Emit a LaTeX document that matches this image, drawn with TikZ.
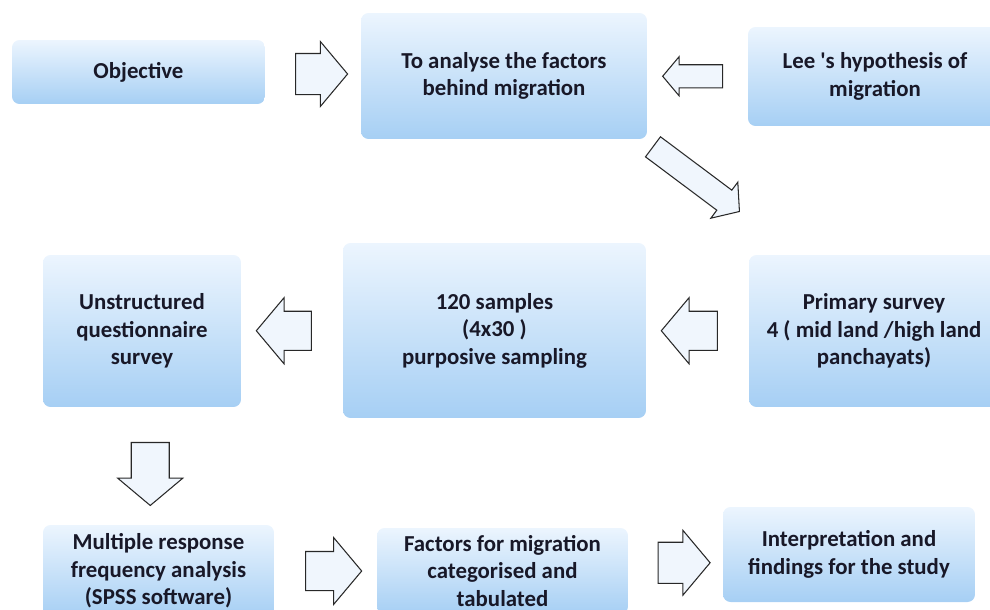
\documentclass[tikz,border=0pt]{standalone}
\usepackage{fontspec}
\setmainfont{Carlito}
\usepackage{xcolor}
\usetikzlibrary{calc, shapes.arrows}

\definecolor{boxtop}{RGB}{236,245,254}
\definecolor{boxbot}{RGB}{166,207,244}
\definecolor{boxtxt}{RGB}{24,24,40}
\definecolor{arrfill}{RGB}{240,246,253}
\definecolor{arrline}{RGB}{40,40,40}

\begin{document}
\begin{tikzpicture}[x=0.02cm, y=-0.02cm,
  box/.style={rounded corners=0.15cm, top color=boxtop, bottom color=boxbot,
    align=center, text=boxtxt, inner sep=0pt,
    font=\bfseries\fontsize{13}{15.7}\selectfont},
  blockarrow/.style n args={3}{single arrow, draw=arrline, fill=arrfill,
    line width=0.6pt, inner xsep=0pt, minimum width=0pt,
    single arrow tip angle=100, minimum height=#1, inner ysep=#2,
    single arrow head extend=#3}]
% picture is laid out in pixels of the reference (990 x 609)
\useasboundingbox (0,0) rectangle (990,609);

% --- Top row ---
\node[box, minimum width=5.06cm, minimum height=1.28cm] (obj) at (138.5,72) {Objective};
\node[box, minimum width=5.72cm, minimum height=2.52cm] (aim) at (504,76)
  {To analyse the factors\\behind migration};
\node[box, minimum width=5.08cm, minimum height=1.98cm] (lee) at (875,76.5)
  {Lee \textquotesingle s hypothesis of\\migration};

% --- Middle row ---
\node[box, minimum width=3.96cm, minimum height=3.04cm] (unstr) at (142,331)
  {Unstructured\\questionnaire\\survey};
\node[box, minimum width=6.06cm, minimum height=3.5cm] (sampl) at (494.5,330.5)
  {120 samples\\(4x30 )\\purposive sampling};
\node[box, minimum width=5.0cm, minimum height=3.04cm] (prim) at (874,331)
  {Primary survey\\4 ( mid land /high land\\panchayats)};

% --- Bottom row (runs off the lower edge) ---
\node[box, minimum width=4.62cm, minimum height=1.84cm] (freq) at (158.5,571)
  {Multiple response\\frequency analysis\\(SPSS software)};
\node[box, minimum width=5.02cm, minimum height=1.72cm] (fact) at (502.5,571)
  {Factors for migration\\categorised and\\tabulated};
\node[box, minimum width=5.04cm, minimum height=1.9cm] (interp) at (849,554.5)
  {Interpretation and\\findings for the study};

% --- Block arrows ---
\node[blockarrow={1.04cm}{0.4cm}{0.24cm}] (objaim) at ($(obj.east)!0.5!(aim.west)$) {};
\node[blockarrow={1.2cm}{0.22cm}{0.16cm}, rotate=180] (leeaim) at ($(aim.east)!0.5!(lee.west)$) {};
\node[blockarrow={2.16cm}{0.24cm}{0.2cm}, rotate=-36.8] (aimprim) at (692,176) {};
\node[blockarrow={1.12cm}{0.38cm}{0.27cm}, rotate=180] (primsampl) at ($(sampl.east)!0.5!(prim.west)$) {};
\node[blockarrow={1.1cm}{0.38cm}{0.27cm}, rotate=180] (samplunstr) at ($(unstr.east)!0.5!(sampl.west)$) {};
\node[blockarrow={1.26cm}{0.37cm}{0.27cm}, rotate=-90] (unstrfreq) at ($(unstr.south)!0.5!(freq.north)$) {};
\node[blockarrow={1.12cm}{0.38cm}{0.28cm}] (freqfact) at ($(freq.east)!0.5!(fact.west)$) {};
\node[blockarrow={1.04cm}{0.4cm}{0.24cm}] (factinterp) at ($(fact.east)!0.5!(interp.west)$) {};
\end{tikzpicture}
\end{document}
